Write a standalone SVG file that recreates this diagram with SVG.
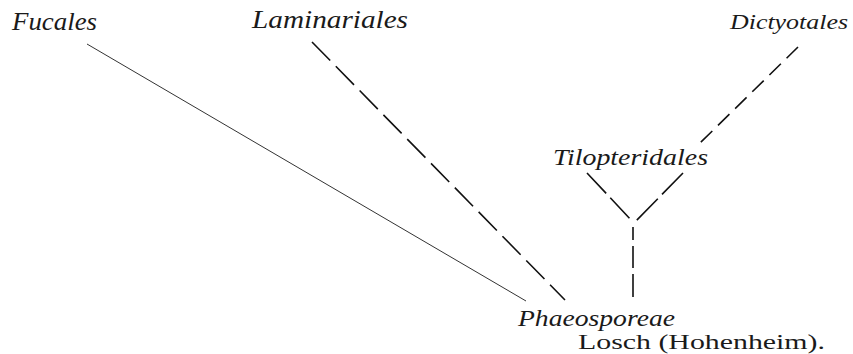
<svg xmlns="http://www.w3.org/2000/svg" width="853" height="354" viewBox="0 0 853 354">
<style>
.lab{font-family:'Liberation Serif','DejaVu Serif',serif;font-style:italic;fill:#1a1a1a}
.up{font-family:'Liberation Serif','DejaVu Serif',serif;fill:#1a1a1a}
.thin{stroke:#333;stroke-width:1;fill:none}
.dash{stroke:#111;stroke-width:1.6;fill:none}
</style>
<rect width="853" height="354" fill="#fff"/>
<g id="edges">
<line class="thin" x1="87" y1="44" x2="526" y2="301"/>
<line class="dash" x1="312" y1="42" x2="565" y2="300" stroke-dasharray="26 8"/>
<line class="dash" x1="798" y1="47" x2="698" y2="145" stroke-dasharray="16 8"/>
<line class="dash" x1="587" y1="173" x2="633" y2="222" stroke-dasharray="28 6"/>
<line class="dash" x1="683" y1="173" x2="635" y2="222" stroke-dasharray="30 6"/>
<line class="dash" x1="633" y1="227" x2="633" y2="297" stroke-dasharray="13 6 22 6 23"/>
</g>
<g id="fucales"><text class="lab" x="12" y="30" font-size="25" textLength="85" lengthAdjust="spacingAndGlyphs">Fucales</text></g>
<g id="laminariales"><text class="lab" x="252" y="28" font-size="25" textLength="156" lengthAdjust="spacingAndGlyphs">Laminariales</text></g>
<g id="dictyotales"><text class="lab" x="730" y="29" font-size="21" textLength="118" lengthAdjust="spacingAndGlyphs">Dictyotales</text></g>
<g id="tilopteridales"><text class="lab" x="553" y="165" font-size="24" textLength="155" lengthAdjust="spacingAndGlyphs">Tilopteridales</text></g>
<g id="phaeosporeae"><text class="lab" x="518" y="326" font-size="23" textLength="157" lengthAdjust="spacingAndGlyphs">Phaeosporeae</text></g>
<g id="credit"><text class="up" x="578" y="349" font-size="21" textLength="247" lengthAdjust="spacingAndGlyphs">Losch (Hohenheim).</text></g>
</svg>
